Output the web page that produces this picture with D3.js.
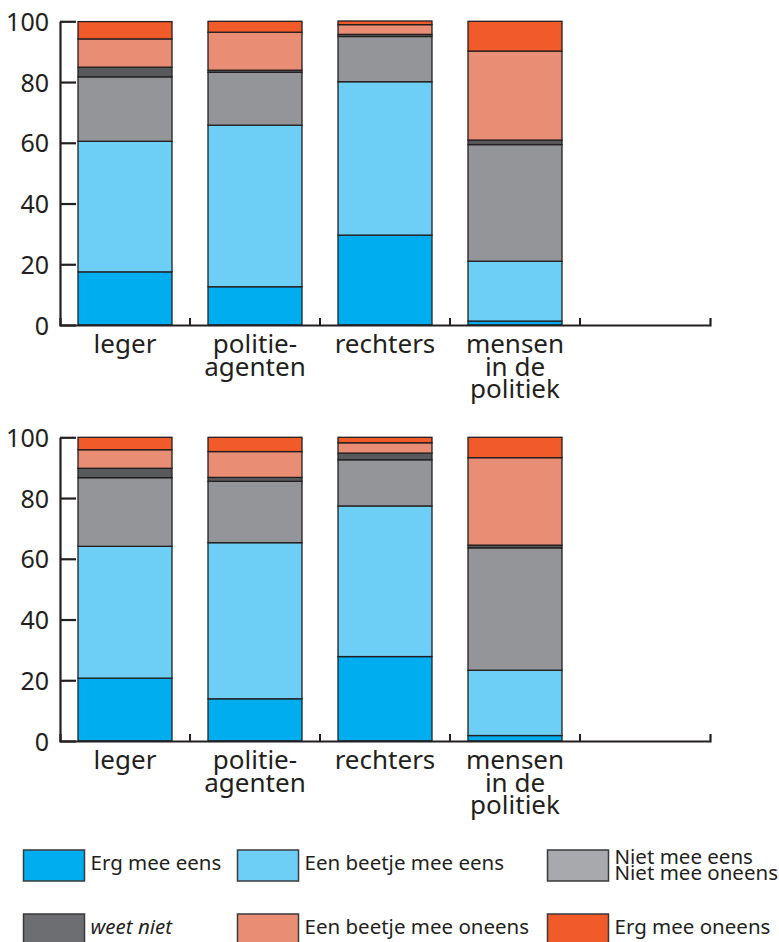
<!DOCTYPE html>
<html>
<head>
<meta charset="utf-8">
<script src="https://cdn.jsdelivr.net/npm/d3@7"></script>
<style>
  html, body { margin: 0; padding: 0; background: #fff; }
  svg { display: block; }
  text { font-family: "Noto Sans", sans-serif; fill: #231f20; }
</style>
</head>
<body>
<svg id="chart" width="779" height="942"></svg>
<script>
// ---- data ----
const categories = ["leger", "politie", "rechters", "mensen", ""];
const categoryLabels = [["leger"], ["politie-", "agenten"], ["rechters"], ["mensen", "in de", "politiek"], []];
const seriesNames = ["Erg mee eens", "Een beetje mee eens", "Niet mee eens Niet mee oneens", "weet niet", "Een beetje mee oneens", "Erg mee oneens"];
const yTicks = [0, 20, 40, 60, 80, 100];

// top chart
const top_ergMeeEens      = [17.5, 12.6, 29.6, 1.3];
const top_beetjeMeeEens   = [43.0, 53.2, 50.5, 19.7];
const top_nietNiet        = [21.2, 17.4, 14.9, 38.4];
const top_weetNiet        = [3.2, 0.7, 0.7, 1.5];
const top_beetjeMeeOneens = [9.3, 12.5, 3.2, 29.3];
const top_ergMeeOneens    = [5.7, 3.6, 1.2, 9.8];

// bottom chart
const bot_ergMeeEens      = [20.7, 13.9, 27.8, 1.8];
const bot_beetjeMeeEens   = [43.4, 51.4, 49.6, 21.5];
const bot_nietNiet        = [22.6, 20.2, 15.2, 40.3];
const bot_weetNiet        = [3.1, 1.3, 2.2, 0.9];
const bot_beetjeMeeOneens = [6.1, 8.5, 3.4, 28.8];
const bot_ergMeeOneens    = [4.1, 4.7, 1.8, 6.7];

const colors = ["#00aeef", "#6dcff6", "#939598", "#58595b", "#e98e74", "#f15a29"];
const legendColors = ["#00aeef", "#6dcff6", "#a7a9ac", "#6d6e71", "#e98e74", "#f15a29"];

const svg = d3.select("#chart");
const ink = "#231f20";

function buildRows(seriesArrays) {
  return categories.slice(0, 4).map((c, i) => {
    const row = { cat: c };
    seriesNames.forEach((s, k) => { row[s] = seriesArrays[k][i]; });
    return row;
  });
}

function drawChart(seriesArrays, y0, y100) {
  const g = svg.append("g");
  const x = d3.scaleBand().domain(categories).range([60, 710]).paddingInner(0.277).paddingOuter(0.1385);
  const y = d3.scaleLinear().domain([0, 100]).range([y0, y100]);
  const rows = buildRows(seriesArrays);
  const stacked = d3.stack().keys(seriesNames)(rows);

  g.selectAll("g.layer").data(stacked).join("g")
    .attr("class", "layer")
    .attr("fill", (d, i) => colors[i])
    .selectAll("rect").data(d => d).join("rect")
    .attr("x", d => x(d.data.cat))
    .attr("width", x.bandwidth())
    .attr("y", d => y(d[1]))
    .attr("height", d => y(d[0]) - y(d[1]))
    .attr("stroke", ink)
    .attr("stroke-width", 1.3);

  // y axis
  const yAxis = d3.axisLeft(y).tickValues(yTicks).tickSizeInner(-16).tickSizeOuter(0).tickPadding(11);
  const ya = g.append("g").attr("transform", "translate(60,0)").call(yAxis);
  ya.select(".domain").attr("stroke", ink).attr("stroke-width", 2.2);
  ya.selectAll(".tick line").attr("stroke", ink).attr("stroke-width", 2.2);
  ya.selectAll(".tick text").attr("font-size", 25).attr("font-family", "Noto Sans").attr("fill", ink).attr("dy", "0.36em");

  // x axis
  const xAxis = d3.axisBottom(x).tickSizeInner(0).tickSizeOuter(-7).tickFormat("");
  const xa = g.append("g").attr("transform", `translate(0,${y0})`).call(xAxis);
  xa.select(".domain").attr("stroke", ink).attr("stroke-width", 2.2).attr("fill", "none");
  xa.selectAll(".tick").remove();
  const gap = (x.step() - x.bandwidth()) / 2;
  g.selectAll("line.bt").data(categories.slice(1)).join("line")
    .attr("class", "bt")
    .attr("x1", d => x(d) - gap).attr("x2", d => x(d) - gap)
    .attr("y1", y0).attr("y2", y0 - 7)
    .attr("stroke", ink).attr("stroke-width", 2);

  // category labels
  const lab = g.selectAll("text.cat").data(categories).join("text")
    .attr("class", "cat")
    .attr("text-anchor", "middle")
    .attr("font-size", 26)
    .attr("x", d => x(d) + x.bandwidth() / 2)
    .attr("y", y0 + 28);
  lab.each(function(d, i) {
    const t = d3.select(this);
    categoryLabels[i].forEach((line, j) => {
      t.append("tspan").attr("x", x(d) + x.bandwidth() / 2).attr("dy", j === 0 ? 0 : 22.5).text(line);
    });
  });
}

drawChart([top_ergMeeEens, top_beetjeMeeEens, top_nietNiet, top_weetNiet, top_beetjeMeeOneens, top_ergMeeOneens], 325, 21.3);
drawChart([bot_ergMeeEens, bot_beetjeMeeEens, bot_nietNiet, bot_weetNiet, bot_beetjeMeeOneens, bot_ergMeeOneens], 741, 437.3);

// legend
const legendItems = [
  { i: 0, x: 23.5, y: 850, lines: ["Erg mee eens"] },
  { i: 1, x: 237.5, y: 850, lines: ["Een beetje mee eens"] },
  { i: 2, x: 547.5, y: 850, lines: ["Niet mee eens", "Niet mee oneens"] },
  { i: 3, x: 23.5, y: 914, lines: ["weet niet"], italic: true },
  { i: 4, x: 237.5, y: 914, lines: ["Een beetje mee oneens"] },
  { i: 5, x: 547.5, y: 914, lines: ["Erg mee oneens"] }
];
const lg = svg.append("g");
legendItems.forEach(it => {
  lg.append("rect").attr("x", it.x).attr("y", it.y).attr("width", 61).attr("height", 31)
    .attr("fill", legendColors[it.i]).attr("stroke", "#3a3a3c").attr("stroke-width", 1.5);
  const t = lg.append("text").attr("font-size", 20.5).attr("font-style", it.italic ? "italic" : null);
  if (it.lines.length === 1) {
    t.append("tspan").attr("x", it.x + 67).attr("y", it.y + 20).text(it.lines[0]);
  } else {
    t.append("tspan").attr("x", it.x + 67).attr("y", it.y + 14).text(it.lines[0]);
    t.append("tspan").attr("x", it.x + 67).attr("y", it.y + 30).text(it.lines[1]);
  }
});
</script>
</body>
</html>
